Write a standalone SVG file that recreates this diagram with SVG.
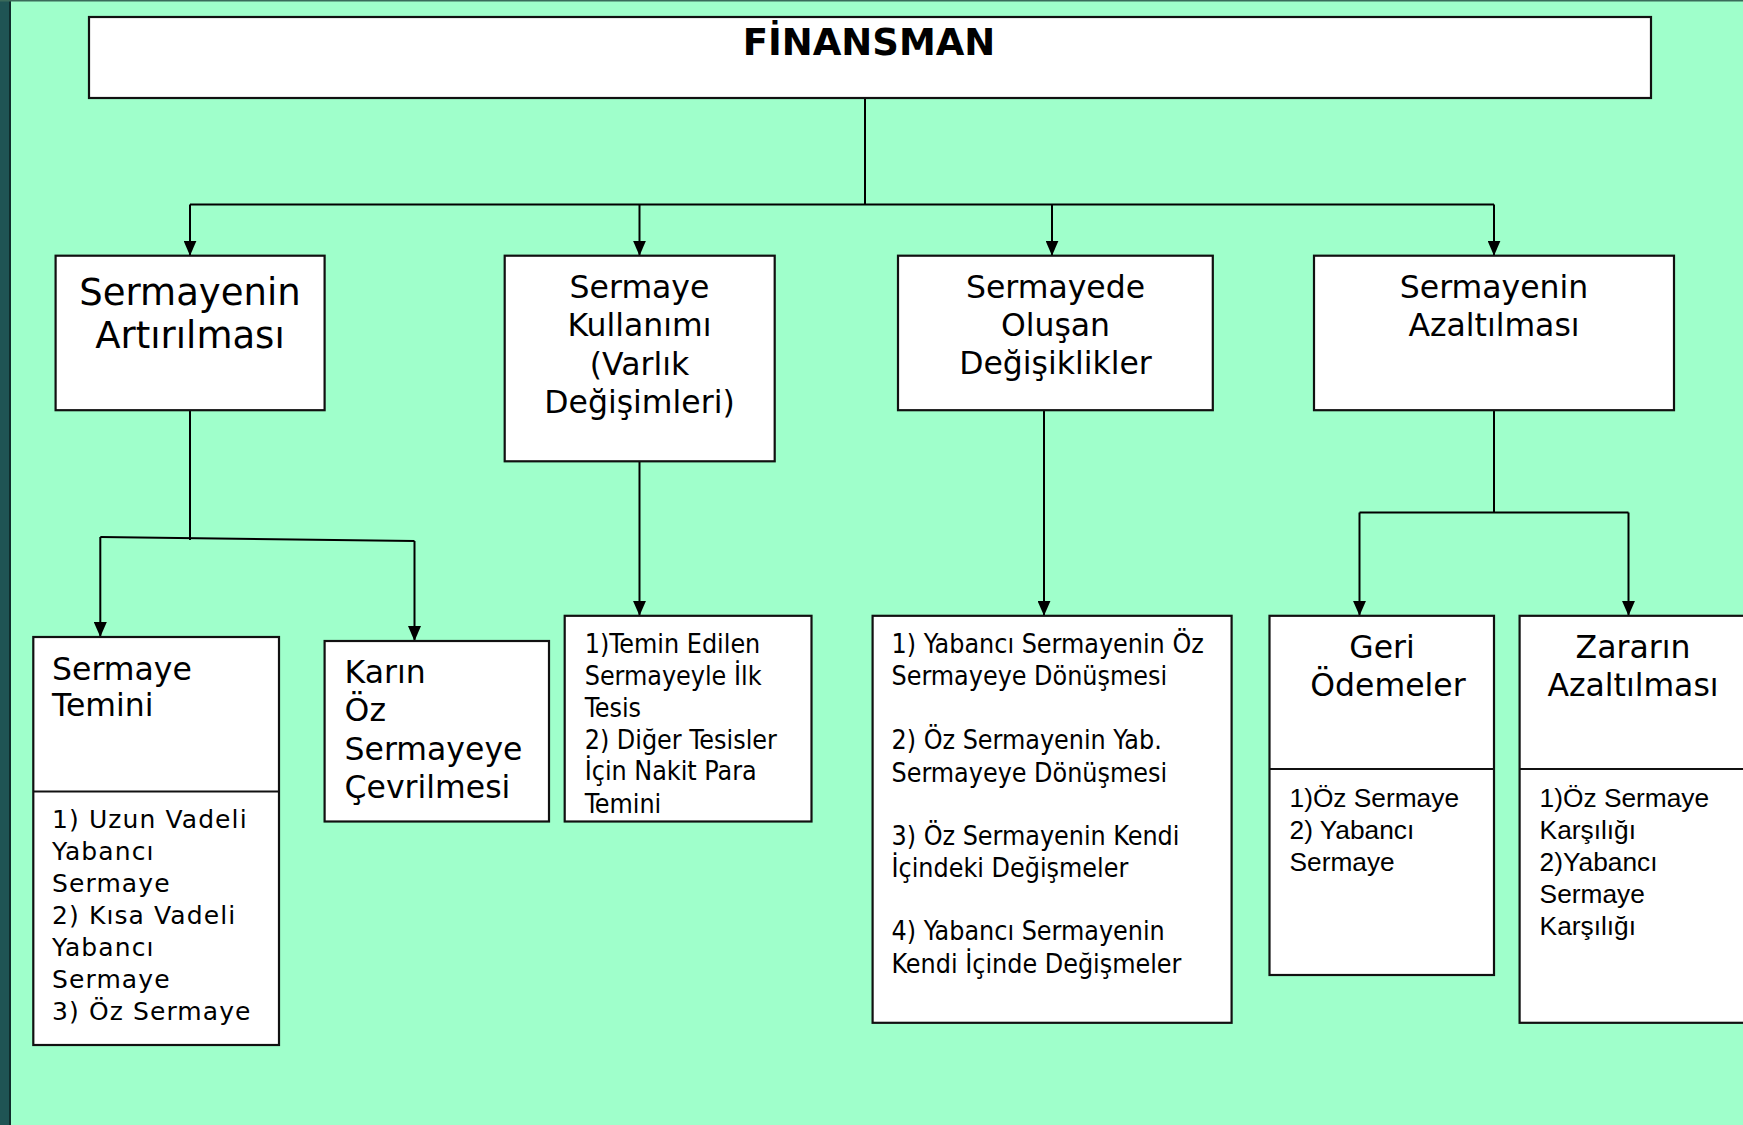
<svg xmlns="http://www.w3.org/2000/svg" width="1743" height="1125" viewBox="0 0 1743 1125">
<style>
.box{fill:#fff;stroke:#111;stroke-width:2.2}
.div{stroke:#111;stroke-width:2}
.ln{fill:none;stroke:#000;stroke-width:2}
.t1{font-family:"DejaVu Sans",Verdana,sans-serif;font-size:37px;fill:#000}
.t2{font-family:"DejaVu Sans",Verdana,sans-serif;font-size:31.5px;fill:#000}
.t3{font-family:"DejaVu Sans",Verdana,sans-serif;font-size:25px;letter-spacing:1.1px;fill:#000}
.tc{font-family:"DejaVu Sans Condensed","DejaVu Sans",sans-serif;font-stretch:condensed;font-size:26.6px;fill:#000}
.ta{font-family:"Liberation Sans",Arial,sans-serif;font-size:26.3px;fill:#000}
.mid{text-anchor:middle}
</style>
<defs>
<marker id="ah" markerUnits="userSpaceOnUse" viewBox="0 0 15 13" refX="15" refY="6.5" markerWidth="15" markerHeight="13" orient="auto">
<path d="M0,0 L15,6.5 L0,13 z" fill="#000"/>
</marker>
</defs>
<rect x="0" y="0" width="1743" height="1125" fill="#9fffcb"/>
<rect x="0" y="0" width="9" height="1125" fill="#1f5454"/>
<rect x="9" y="0" width="2" height="1125" fill="#0f2c2c"/>
<rect x="0" y="0" width="1743" height="1.5" fill="#3a6a5a"/>

<g id="connectors">
<path class="ln" d="M865,98 V204.5"/>
<path class="ln" d="M190,204.5 H1494"/>
<path class="ln" d="M190,204.5 V255.7" marker-end="url(#ah)"/>
<path class="ln" d="M639.5,204.5 V255.7" marker-end="url(#ah)"/>
<path class="ln" d="M1052,204.5 V255.7" marker-end="url(#ah)"/>
<path class="ln" d="M1494,204.5 V255.7" marker-end="url(#ah)"/>
<path class="ln" d="M190,410 V540"/>
<path class="ln" d="M100.3,537 L414.5,541"/>
<path class="ln" d="M100.3,537 V637" marker-end="url(#ah)"/>
<path class="ln" d="M414.5,541 V641" marker-end="url(#ah)"/>
<path class="ln" d="M639.5,461.3 V615.8" marker-end="url(#ah)"/>
<path class="ln" d="M1044,410 V615.8" marker-end="url(#ah)"/>
<path class="ln" d="M1494,410 V512.5"/>
<path class="ln" d="M1359.5,512.5 H1628.5"/>
<path class="ln" d="M1359.5,512.5 V615.8" marker-end="url(#ah)"/>
<path class="ln" d="M1628.5,512.5 V615.8" marker-end="url(#ah)"/>
</g>

<g id="finansman">
<rect class="box" x="89" y="17" width="1562" height="81"/>
<text x="869" y="55" class="mid" style="font-family:'DejaVu Sans',Verdana,sans-serif;font-weight:bold;font-size:37px">FİNANSMAN</text>
</g>

<g id="sermayenin-artirilmasi">
<rect class="box" x="55.6" y="255.7" width="269" height="154.5"/>
<text class="t1 mid" x="190" y="304.6">Sermayenin</text>
<text class="t1 mid" x="190" y="348">Artırılması</text>
</g>

<g id="sermaye-kullanimi">
<rect class="box" x="504.7" y="255.7" width="270" height="205.6"/>
<text class="t2 mid" x="639.5" y="298">Sermaye</text>
<text class="t2 mid" x="639.5" y="336">Kullanımı</text>
<text class="t2 mid" x="639.5" y="374.5">(Varlık</text>
<text class="t2 mid" x="639.5" y="413">Değişimleri)</text>
</g>

<g id="sermayede-olusan">
<rect class="box" x="898" y="255.7" width="314.8" height="154.5"/>
<text class="t2 mid" x="1055.5" y="298">Sermayede</text>
<text class="t2 mid" x="1055.5" y="336">Oluşan</text>
<text class="t2 mid" x="1055.5" y="374">Değişiklikler</text>
</g>

<g id="sermayenin-azaltilmasi">
<rect class="box" x="1314" y="255.7" width="360" height="154.5"/>
<text class="t2 mid" x="1494" y="298">Sermayenin</text>
<text class="t2 mid" x="1494" y="336">Azaltılması</text>
</g>

<g id="sermaye-temini">
<rect class="box" x="33.3" y="637" width="245.7" height="408"/>
<line class="div" x1="33.3" y1="791.5" x2="279" y2="791.5"/>
<text class="t2" x="52" y="680">Sermaye</text>
<text class="t2" x="52" y="716">Temini</text>
<text class="t3" x="52" y="827.5">1) Uzun Vadeli</text>
<text class="t3" x="52" y="860">Yabancı</text>
<text class="t3" x="52" y="892">Sermaye</text>
<text class="t3" x="52" y="924">2) Kısa Vadeli</text>
<text class="t3" x="52" y="955.5">Yabancı</text>
<text class="t3" x="52" y="987.7">Sermaye</text>
<text class="t3" x="52" y="1020">3) Öz Sermaye</text>
</g>

<g id="karin-oz-sermayeye">
<rect class="box" x="324.6" y="641" width="224.4" height="180.5"/>
<text class="t2" x="344.6" y="683">Karın</text>
<text class="t2" x="344.6" y="721">Öz</text>
<text class="t2" x="344.6" y="760">Sermayeye</text>
<text class="t2" x="344.6" y="797.6">Çevrilmesi</text>
</g>

<g id="temin-edilen">
<rect class="box" x="564.7" y="615.8" width="246.8" height="205.7"/>
<text class="tc" x="584.7" y="652.5">1)Temin Edilen</text>
<text class="tc" x="584.7" y="684.7">Sermayeyle İlk</text>
<text class="tc" x="584.7" y="717">Tesis</text>
<text class="tc" x="584.7" y="749">2) Diğer Tesisler</text>
<text class="tc" x="584.7" y="780">İçin Nakit Para</text>
<text class="tc" x="584.7" y="812.6">Temini</text>
</g>

<g id="degisimler-listesi">
<rect class="box" x="872.6" y="615.8" width="359" height="407"/>
<text class="tc" x="891.5" y="652.5">1) Yabancı Sermayenin Öz</text>
<text class="tc" x="891.5" y="684.7">Sermayeye Dönüşmesi</text>
<text class="tc" x="891.5" y="749">2) Öz Sermayenin Yab.</text>
<text class="tc" x="891.5" y="781.5">Sermayeye Dönüşmesi</text>
<text class="tc" x="891.5" y="845">3) Öz Sermayenin Kendi</text>
<text class="tc" x="891.5" y="877">İçindeki Değişmeler</text>
<text class="tc" x="891.5" y="940">4) Yabancı Sermayenin</text>
<text class="tc" x="891.5" y="972.6">Kendi İçinde Değişmeler</text>
</g>

<g id="geri-odemeler">
<rect class="box" x="1269.5" y="615.8" width="224.5" height="359.2"/>
<line class="div" x1="1269.5" y1="769" x2="1494" y2="769"/>
<text class="t2 mid" x="1382" y="658">Geri</text>
<text class="t2 mid" x="1388" y="696">Ödemeler</text>
<text class="ta" x="1289.5" y="806.5">1)Öz Sermaye</text>
<text class="ta" x="1289.5" y="838.7">2) Yabancı</text>
<text class="ta" x="1289.5" y="871">Sermaye</text>
</g>

<g id="zararin-azaltilmasi">
<rect class="box" x="1519.6" y="615.8" width="260" height="407"/>
<line class="div" x1="1519.6" y1="769" x2="1743" y2="769"/>
<text class="t2 mid" x="1633" y="658">Zararın</text>
<text class="t2 mid" x="1633" y="696">Azaltılması</text>
<text class="ta" x="1539.6" y="806.5">1)Öz Sermaye</text>
<text class="ta" x="1539.6" y="838.7">Karşılığı</text>
<text class="ta" x="1539.6" y="871">2)Yabancı</text>
<text class="ta" x="1539.6" y="903">Sermaye</text>
<text class="ta" x="1539.6" y="934.5">Karşılığı</text>
</g>
</svg>
